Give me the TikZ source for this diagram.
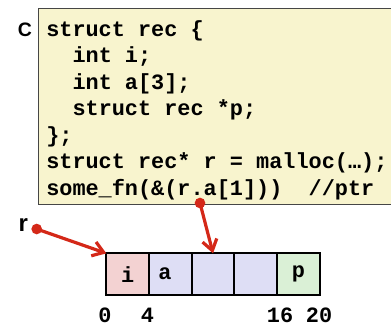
\documentclass[tikz,border=0pt]{standalone}
\usepackage{fontspec}
\usepackage{xcolor}
\usetikzlibrary{positioning,arrows.meta}
\newfontfamily\codefont{Liberation Mono}
\newfontfamily\tagfont{Liberation Sans}

\tikzset{
  codebox/.style={draw={rgb,255:red,70;green,70;blue,70}, fill={rgb,255:red,248;green,244;blue,206}, line width=0.75pt},
  codeline/.style={anchor=base west, inner sep=0pt, font=\codefont\bfseries\fontsize{16.4}{19.8}\selectfont},
  tag/.style={anchor=base, inner sep=0pt, font=\tagfont\bfseries},
  cell/.style={draw=black, line width=1.5pt, minimum width=32pt, minimum height=31.3pt, inner sep=0pt, outer sep=0pt,
    font=\codefont\bfseries\fontsize{16.4}{19.8}\selectfont},
  cellI/.style={cell, fill={rgb,255:red,243;green,210;blue,210}},
  cellA/.style={cell, fill={rgb,255:red,222;green,222;blue,245}},
  cellP/.style={cell, fill={rgb,255:red,218;green,240;blue,214}},
  offset/.style={anchor=base, inner sep=0pt, font=\codefont\bfseries\fontsize{16.4}{19.8}\selectfont},
  dot/.style={circle, fill={rgb,255:red,212;green,40;blue,24}, inner sep=0pt, minimum size=8pt},
  ptr/.style={draw={rgb,255:red,212;green,40;blue,24}, line width=2.4pt, -{Straight Barb[length=8pt,width=11pt,line width=2.4pt]}}
}

\begin{document}
\begin{tikzpicture}[x=0.75pt,y=0.75pt,yscale=-1,xscale=1]
\useasboundingbox (0,0) rectangle (391,330);

% code box
\draw[codebox] (38,8) rectangle (395,204);
\node[tag, font=\tagfont\bfseries\fontsize{14.6}{17}\selectfont] (labelC) at (25,36.7) {C};

\node[codeline] (code1) at (46,36) {struct rec \{};
\node[codeline] (code2) at (46,62.5) {\ \ int i;};
\node[codeline] (code3) at (46,89) {\ \ int a[3];};
\node[codeline] (code4) at (46,115.5) {\ \ struct rec *p;};
\node[codeline] (code5) at (46,142) {\};};
\node[codeline] (code6) at (46,168.5) {struct rec* r = malloc(…);};
\node[codeline] (code7) at (46,195) {some\_fn(\&(r.a[1]))\ \ //ptr};

% memory layout
\node[cellI] (cellI) at (127.7,274.2) {i};
\node[cellA, right=0pt of cellI] (cellA1) {};
\node[cellA, right=0pt of cellA1] (cellA2) {};
\node[cellA, right=0pt of cellA2] (cellA3) {};
\node[cellP, right=0pt of cellA3] (cellP) {p};
\node[cell, draw=none, fill=none, minimum width=0pt, minimum height=0pt] (lblA) at (165,274.2) {a};

\node[offset] (off0) at (105,322) {0};
\node[offset] (off4) at (147.5,322) {4};
\node[offset] (off16) at (280,322) {16};
\node[offset] (off20) at (319,322) {20};

% pointers
\node[tag, font=\tagfont\bfseries\fontsize{18}{21}\selectfont] (labelR) at (23.3,231) {r};
\node[dot] (dotR) at (36.7,229) {};
\node[dot] (dotA) at (200,203) {};
\draw[ptr] (dotR.center) -- (cellI.north west);
\draw[ptr] (dotA.center) -- (cellA2.north);

\end{tikzpicture}
\end{document}
